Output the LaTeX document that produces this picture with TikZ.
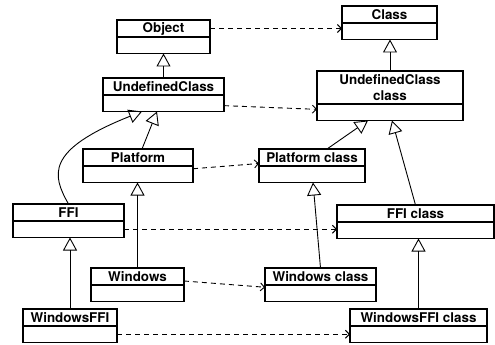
\documentclass[tikz,border=0pt]{standalone}
\usepackage{fontspec}
\setmainfont{TeX Gyre Heros}
\usetikzlibrary{arrows.meta,positioning}

\begin{document}
\begin{tikzpicture}[x=1pt, y=-1pt,
    box/.style={draw, line width=1.1pt, inner sep=0pt, outer sep=0pt, align=center,
      font=\fontsize{13.4}{16}\selectfont\bfseries},
    head/.style={box, anchor=north west, minimum height=17pt},
    body/.style={box, minimum height=16.5pt},
    isa/.style={line width=0.9pt, -{Triangle[open, length=13pt, width=14pt]}},
    dep/.style={line width=0.9pt, dash pattern=on 5pt off 4pt, -{Straight Barb[length=4pt, width=8pt]}}]
  \useasboundingbox (0,0) rectangle (495,345);
  \node (Object) [head, minimum width=93pt] at (117,20) {Object};
  \node (ObjectBody) [body, minimum width=93pt, below=0pt of Object] {};
  \node (Undef) [head, minimum width=121pt] at (103,78) {UndefinedClass};
  \node (UndefBody) [body, minimum width=121pt, below=0pt of Undef] {};
  \node (Platform) [head, minimum width=110pt] at (83,149) {Platform};
  \node (PlatformBody) [body, minimum width=110pt, below=0pt of Platform] {};
  \node (FFI) [head, minimum width=111pt] at (13,204) {FFI};
  \node (FFIBody) [body, minimum width=111pt, below=0pt of FFI] {};
  \node (Windows) [head, minimum width=93pt] at (91,268) {Windows};
  \node (WindowsBody) [body, minimum width=93pt, below=0pt of Windows] {};
  \node (WinFFI) [head, minimum width=94pt] at (23,309) {WindowsFFI};
  \node (WinFFIBody) [body, minimum width=94pt, below=0pt of WinFFI] {};

  \node (Class) [head, minimum width=95pt] at (342,6) {Class};
  \node (ClassBody) [body, minimum width=95pt, below=0pt of Class] {};
  \node (UndefClass) [head, minimum width=146pt, minimum height=33pt] at (317,71) {UndefinedClass\\class};
  \node (UndefClassBody) [body, minimum width=146pt, below=0pt of UndefClass] {};
  \node (PlatformClass) [head, minimum width=106pt] at (259,149) {Platform class};
  \node (PlatformClassBody) [body, minimum width=106pt, below=0pt of PlatformClass] {};
  \node (FFIClass) [head, minimum width=157pt] at (337,205) {FFI class};
  \node (FFIClassBody) [body, minimum width=157pt, below=0pt of FFIClass] {};
  \node (WindowsClass) [head, minimum width=111pt] at (265,268) {Windows class};
  \node (WindowsClassBody) [body, minimum width=111pt, below=0pt of WindowsClass] {};
  \node (WinFFIClass) [head, minimum width=137pt] at (350,309) {WindowsFFI class};
  \node (WinFFIClassBody) [body, minimum width=137pt, below=0pt of WinFFIClass] {};

  \draw [isa] (Undef.north) -- (ObjectBody.south);
  \draw [isa] ([xshift=4pt]Platform.north) -- ([xshift=-6.5pt]UndefBody.south);
  \draw [isa] (FFI.north) .. controls (52,175) and (45,150) .. ([xshift=-21.5pt]UndefBody.south);
  \draw [isa] (Windows.north) -- (Windows.north |- PlatformBody.south);
  \draw [isa] (WinFFI.north) -- (WinFFI.north |- FFIBody.south);
  \draw [isa] (UndefClass.north) -- (UndefClass.north |- ClassBody.south);
  \draw [isa] ([xshift=15pt]PlatformClass.north) -- ([xshift=-22pt]UndefClassBody.south);
  \draw [isa] (FFIClass.north) -- ([xshift=2pt]UndefClassBody.south);
  \draw [isa] (WindowsClass.north) -- ([xshift=1pt]PlatformClassBody.south);
  \draw [isa] (WinFFIClass.north) -- (WinFFIClass.north |- FFIClassBody.south);

  \draw [dep] (Object.east) -- (Object.east -| ClassBody.west);
  \draw [dep] (UndefBody) -- (UndefClassBody);
  \draw [dep] ([yshift=5.5pt]PlatformBody.east) -- ([yshift=-6pt]PlatformClass.west);
  \draw [dep] (FFIBody.east) -- (FFIBody.east -| FFIClassBody.west);
  \draw [dep] ([yshift=-4.5pt]Windows.east) -- ([yshift=6pt]WindowsClassBody.west);
  \draw [dep] (WinFFIBody.east) -- (WinFFIBody.east -| WinFFIClassBody.west);
\end{tikzpicture}
\end{document}
